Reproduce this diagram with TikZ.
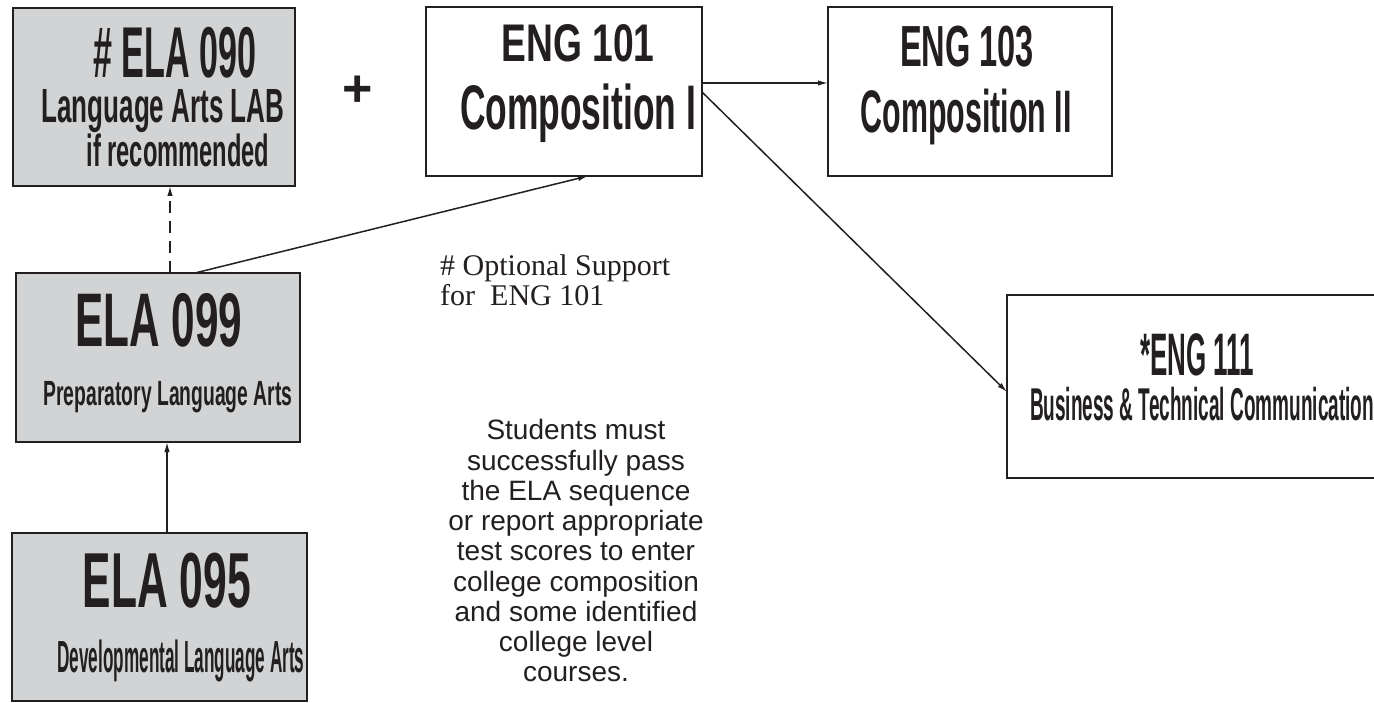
\documentclass[tikz,border=0pt]{standalone}
\usepackage{fontspec}
\setmainfont{Liberation Sans}
\newfontfamily\seriffam{Liberation Serif}
\usetikzlibrary{arrows.meta}
\definecolor{ink}{HTML}{231F20}
\definecolor{boxgray}{HTML}{D1D3D4}
\newcommand{\cnd}[3]{\resizebox{#1pt}{\height}{\fontsize{#2}{#2}\selectfont\bfseries #3}}
\begin{document}
\begin{tikzpicture}[x=1pt,y=-1pt,
  box/.style={draw=ink, line width=2.6pt, anchor=north west, inner sep=0pt, outer sep=0pt},
  graybox/.style={box, fill=boxgray},
  whitebox/.style={box, fill=white},
  lbl/.style={anchor=base, inner sep=0pt, text=ink},
  arr/.style={draw=ink, line width=1.5pt, -{Latex[length=10pt,width=5.5pt]}},
]
\useasboundingbox (0,0) rectangle (1374,703);
\clip (0,0) rectangle (1374,703);
\fill[white] (0,0) rectangle (1374,703);

% boxes
\node[graybox, minimum width=282, minimum height=178] (b090) at (13,8) {};
\node[graybox, minimum width=284, minimum height=169] (b099) at (16,273) {};
\node[graybox, minimum width=295, minimum height=168] (b095) at (12,533) {};
\node[whitebox, minimum width=276, minimum height=169] (b101) at (426,7) {};
\node[whitebox, minimum width=284, minimum height=169] (b103) at (828,7) {};
\node[whitebox, minimum width=400, minimum height=183] (b111) at (1007,295) {};

% box texts
\node[lbl] (t090a) at (175,78) {\cnd{163}{72}{\# ELA 090}};
\node[lbl] (t090b) at (163,123) {\cnd{243}{48}{Language Arts LAB}};
\node[lbl] (t090c) at (178,167) {\cnd{183}{45}{if recommended}};
\node[lbl] (t099a) at (159,347) {\cnd{167}{76}{ELA 099}};
\node[lbl] (t099b) at (168,405) {\cnd{249}{35}{Preparatory Language Arts}};
\node[lbl] (t095a) at (167,607) {\cnd{168}{78}{ELA 095}};
\node[lbl] (t095b) at (181,672) {\cnd{247}{45}{Developmental Language Arts}};
\node[lbl] (t101a) at (578,62) {\cnd{153}{53}{ENG 101}};
\node[lbl] (t101b) at (578,130) {\cnd{236}{63}{Composition I}};
\node[lbl] (t103a) at (967,67) {\cnd{134}{58}{ENG 103}};
\node[lbl] (t103b) at (966,133) {\cnd{211}{60}{Composition II}};
\node[lbl] (t111a) at (1197,375) {\cnd{114}{60}{*ENG 111}};
\node[lbl] (t111b) at (1202,420) {\cnd{344}{46}{Business \& Technical Communication}};

% plus
\node[lbl, font=\fontsize{52}{52}\selectfont\bfseries] (plus) at (357.5,106.5) {+};

% free texts
\node[anchor=north west, inner sep=0pt, align=left, text=ink, font=\seriffam\fontsize{30}{30}\selectfont] (opt) at (440,254) {\# Optional Support\\for\ \ ENG 101};
\node[anchor=north, inner sep=0pt, align=center, text=ink, font=\fontsize{28}{30.25}\selectfont] (note) at (576,419.5) {Students must\\successfully pass\\the ELA sequence\\or report appropriate\\test scores to enter\\college composition\\and some identified\\college level\\courses.};

% connectors
\coordinate (xd) at (170,0);
\coordinate (xs) at (167,0);
\coordinate (x195) at (195,0);
\coordinate (x588) at (588,0);
\coordinate (y83) at (0,83);
\coordinate (y92) at (0,92);
\coordinate (y392) at (0,392);
\draw[arr, dash pattern=on 12pt off 8pt] (b099.north -| xd) -- (b090.south -| xd);
\draw[arr] (b095.north -| xs) -- (b099.south -| xs);
\draw[arr] (b099.north -| x195) -- (b101.south -| x588);
\draw[arr] (b101.east |- y83) -- (b103.west |- y83);
\draw[arr] (b101.east |- y92) -- (b111.west |- y392);
\end{tikzpicture}
\end{document}
